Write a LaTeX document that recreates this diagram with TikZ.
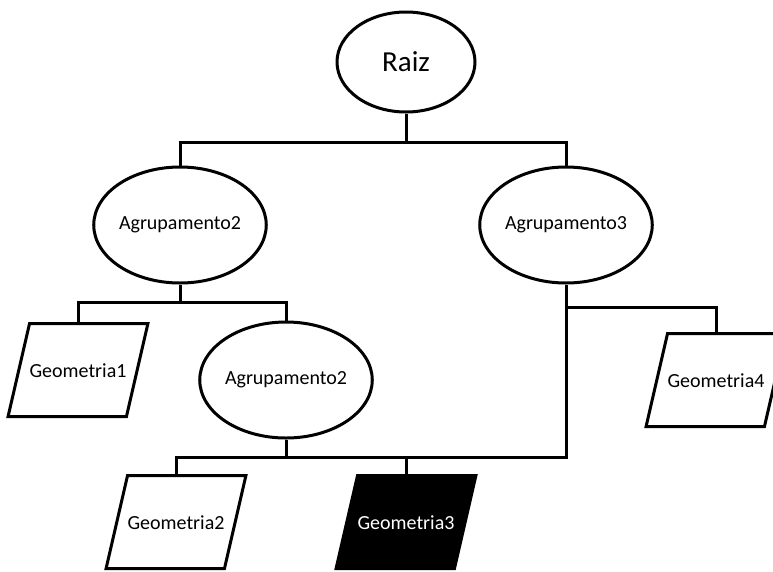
\documentclass[tikz,border=0pt]{standalone}
\usepackage{fontspec}
\setmainfont{Carlito}
\usetikzlibrary{shapes.geometric}

\begin{document}
\begin{tikzpicture}[x=1pt, y=-1pt, line width=3pt,
        grupo/.style={draw, ellipse, minimum width=146pt, minimum height=116pt,
            inner sep=0pt, font=\fontsize{20}{24}\selectfont},
        geom/.style={draw, trapezium, trapezium left angle=77, trapezium right angle=103,
            trapezium stretches body, minimum width=136pt, text height=14pt, text depth=0pt,
            inner xsep=0pt, inner ysep=39.5pt, font=\fontsize{20}{24}\selectfont}]
        \useasboundingbox (0,0) rectangle (773,571);

        % Root
        \node[draw, ellipse, minimum width=138pt, minimum height=100pt,
            font=\fontsize{29}{34}\selectfont] (raiz) at (406,62) {Raiz};

        % Groupings
        \node[grupo] (agrA) at (180,225) {Agrupamento2};
        \node[grupo] (agrB) at (566,225) {Agrupamento3};
        \node[grupo] (agrC) at (286,380) {Agrupamento2};

        % Geometries
        \node[geom] (geo1) at (78,370) {Geometria1};
        \node[geom] (geo4) at (716,380) {Geometria4};
        \node[geom] (geo2) at (176,522) {Geometria2};
        \node[geom, fill=black, text=white] (geo3) at (406,522) {Geometria3};

        % Junctions
        \coordinate (busRaiz) at (406,142);
        \coordinate (busA) at (180,302);
        \coordinate (busB) at (566,307);
        \coordinate (busC) at (286,457);

        % Connectors
        \draw (raiz.south) -- (busRaiz);
        \draw (agrA.north) |- (busRaiz) -| (agrB.north);
        \draw (agrA.south) -- (busA);
        \draw (geo1.north) |- (busA) -| (agrC.north);
        \draw (agrC.south) -- (busC);
        \draw (geo2.north) |- (busC) -| (agrB.south);
        \draw (geo3.north) -- (geo3.north |- busC);
        \draw (busB) -| (geo4.north);

    \end{tikzpicture}
\end{document}
